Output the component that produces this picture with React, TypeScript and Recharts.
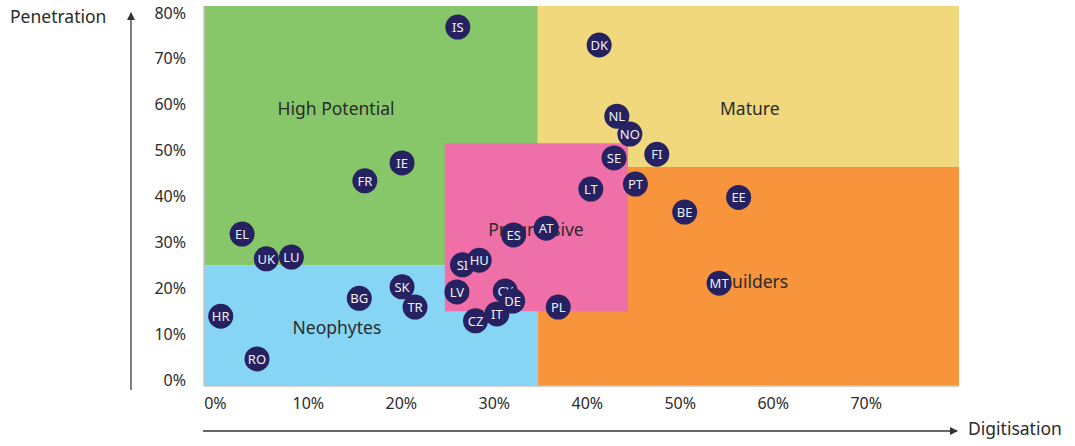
import { ScatterChart, Scatter, XAxis, YAxis, ReferenceArea } from 'recharts';

// country codes and their (digitisation, penetration) scores in %
const countries = ['IS', 'DK', 'NL', 'NO', 'SE', 'FI', 'PT', 'LT', 'AT', 'ES', 'SI', 'HU', 'LV', 'CY', 'DE', 'IT', 'CZ', 'PL', 'SK', 'TR', 'BG', 'HR', 'RO', 'EL', 'UK', 'LU', 'FR', 'IE', 'BE', 'EE', 'MT'];
const digitisation = [26.4, 41.6, 43.5, 44.9, 43.2, 47.8, 45.5, 40.7, 35.9, 32.4, 26.9, 28.7, 26.3, 31.5, 32.3, 30.6, 28.3, 37.2, 20.4, 21.8, 15.8, 0.9, 4.8, 3.2, 5.8, 8.5, 16.4, 20.4, 50.8, 56.6, 54.5];
const penetration = [76.9, 73.0, 57.5, 53.6, 48.4, 49.2, 42.7, 41.6, 33.1, 31.6, 25.1, 26.1, 19.2, 19.4, 17.2, 14.4, 12.9, 15.9, 20.3, 15.9, 17.8, 13.9, 4.6, 31.8, 26.4, 26.8, 43.4, 47.3, 36.6, 39.8, 21.1];

const xTicks = [0, 10, 20, 30, 40, 50, 60, 70];
const yTicks = [0, 10, 20, 30, 40, 50, 60, 70, 80];
const xDomain = [-0.9, 80.3];
const yDomain = [-1.3, 81.5];

// segments (drawn in this order)
const zoneNames = ['Neophytes', 'High Potential', 'Mature', 'Builders', 'Progressive'];
const zoneX1 = [-0.9, -0.9, 35, 35, 25];
const zoneX2 = [35, 35, 80.3, 80.3, 44.7];
const zoneY1 = [-1.3, 25, 46.4, -1.3, 15];
const zoneY2 = [25, 81.5, 81.5, 46.4, 51.6];
const zoneLabelX = [13.4, 13.3, 57.8, 58.3, 34.8];
const zoneLabelY = [11.3, 59, 59, 21.4, 32.7];

const ZONE_COLORS: Record<string, string> = {
  Neophytes: '#87D5F5',
  'High Potential': '#87C76A',
  Mature: '#F2D87C',
  Builders: '#F7943C',
  Progressive: '#EF6FA8',
};

const FONT = '"Noto Sans", "Open Sans", sans-serif';

const points = countries.map((c, i) => ({ name: c, x: digitisation[i], y: penetration[i] }));
const zoneLabels = zoneNames.map((n, i) => ({ name: n, x: zoneLabelX[i], y: zoneLabelY[i] }));

const CountryDot = (props: any) => {
  const { cx, cy, payload } = props;
  return (
    <g>
      <circle cx={cx} cy={cy} r={12.5} fill="#262262" />
      <text x={cx} y={cy} dy="0.36em" textAnchor="middle" fill="#F0F0F5" fontSize={13} fontFamily={FONT}>
        {payload.name}
      </text>
    </g>
  );
};

const ZoneLabel = (props: any) => {
  const { cx, cy, payload } = props;
  return (
    <text x={cx} y={cy} dy="0.35em" textAnchor="middle" fill="#2B2B2B" fontSize={17.5} fontFamily={FONT}>
      {payload.name}
    </text>
  );
};

export default function App() {
  return (
    <div style={{ position: 'absolute', left: 0, top: 0, width: 1075, height: 446, background: '#fff' }}>
      <ScatterChart width={1075} height={446} margin={{ top: 6, right: 116, bottom: 0, left: 0 }}>
        {zoneNames.map((n, i) => (
          <ReferenceArea
            key={n}
            x1={zoneX1[i]}
            x2={zoneX2[i]}
            y1={zoneY1[i]}
            y2={zoneY2[i]}
            fill={ZONE_COLORS[n]}
            fillOpacity={1}
            stroke="none"
            ifOverflow="visible"
          />
        ))}
        <XAxis
          type="number"
          dataKey="x"
          domain={xDomain}
          ticks={xTicks}
          allowDataOverflow
          tickFormatter={(v) => `${v}%`}
          tickLine={false}
          tickSize={0}
          tickMargin={12}
          axisLine={{ stroke: '#C4C4C4', strokeWidth: 1.5 }}
          tick={{ fill: '#2B2B2B', fontSize: 16, fontFamily: FONT, dx: 3 }}
          height={60}
        />
        <YAxis
          type="number"
          dataKey="y"
          domain={yDomain}
          ticks={yTicks}
          allowDataOverflow
          tickFormatter={(v) => `${v}%`}
          tickLine={false}
          tickSize={0}
          tickMargin={18}
          axisLine={{ stroke: '#C4C4C4', strokeWidth: 1.5 }}
          tick={{ fill: '#2B2B2B', fontSize: 16, fontFamily: FONT }}
          width={204}
        />
        <Scatter data={zoneLabels} shape={<ZoneLabel />} isAnimationActive={false} />
        <Scatter data={points} shape={<CountryDot />} isAnimationActive={false} />
      </ScatterChart>
      <svg width={1075} height={446} style={{ position: 'absolute', left: 0, top: 0, pointerEvents: 'none' }}>
        <defs>
          <marker id="arr" markerWidth="8" markerHeight="8" refX="7" refY="4" orient="auto" markerUnits="userSpaceOnUse">
            <path d="M0,0 L8,4 L0,8 Z" fill="#333" />
          </marker>
        </defs>
        <line x1={131} y1={390} x2={131} y2={13} stroke="#555" strokeWidth={1.5} markerEnd="url(#arr)" />
        <line x1={203} y1={431} x2={957} y2={431} stroke="#333" strokeWidth={1.5} markerEnd="url(#arr)" />
        <text x={10} y={17} dy="0.35em" fontSize={17.5} fill="#2B2B2B" fontFamily={FONT}>Penetration</text>
        <text x={968} y={429} dy="0.35em" fontSize={17.5} fill="#2B2B2B" fontFamily={FONT}>Digitisation</text>
      </svg>
    </div>
  );
}
